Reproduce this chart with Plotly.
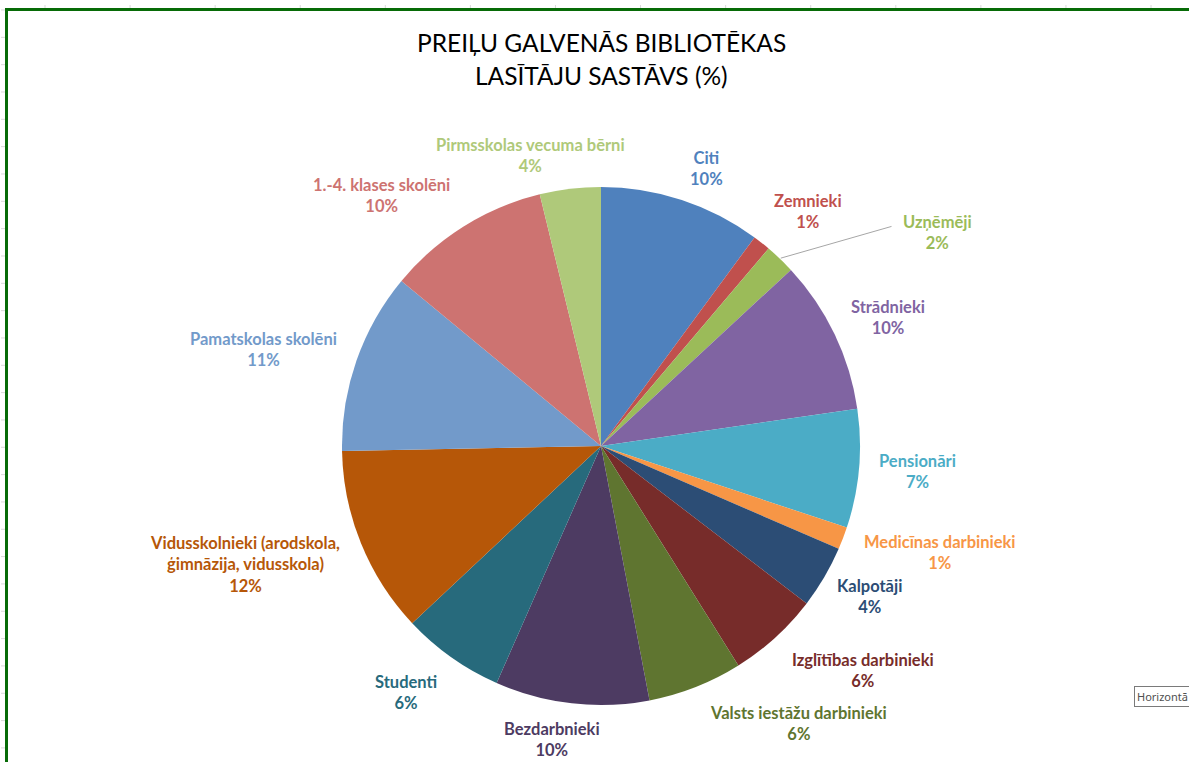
import math
import plotly.graph_objects as go

# ---- data ----
categories = [
    "Citi", "Zemnieki", "Uzņēmēji", "Strādnieki", "Pensionāri",
    "Medicīnas darbinieki", "Kalpotāji", "Izglītības darbinieki",
    "Valsts iestāžu darbinieki", "Bezdarbnieki", "Studenti",
    "Vidusskolnieki (arodskola,<br>ģimnāzija, vidusskola)",
    "Pamatskolas skolēni", "1.-4. klases skolēni", "Pirmsskolas vecuma bērni",
]
shares = [10.1, 1.1, 1.9, 9.6, 7.4, 1.4, 3.9, 5.7, 5.9, 9.6, 6.4, 11.7, 11.3, 10.2, 3.8]
title_lines = ["PREIĻU GALVENĀS BIBLIOTĒKAS", "LASĪTĀJU SASTĀVS (%)"]

# ---- styles ----
colors = ["#4F81BD", "#C0504D", "#9BBB59", "#8064A2", "#4BACC6", "#F79646",
          "#2C4D75", "#772C2A", "#5F7530", "#4D3B62", "#276A7C", "#B65708",
          "#729ACA", "#CD7371", "#AFC97A"]
label_px = [(706, 168), (808, 211), (937, 232), (888, 318), (918, 471),
            (940, 552), (869, 596), (863, 670), (798, 723), (552, 739),
            (406, 692), (245, 564), (263, 349), (381, 195), (530, 156)]

W, H = 1189, 762
cx, cy, R = 601, 446, 259


def px(x):
    return x / W


def py(y):
    return 1 - y / H


fig = go.Figure()
fig.add_trace(go.Pie(
    labels=categories, values=shares, sort=False, direction="clockwise", rotation=0,
    marker=dict(colors=colors, line=dict(width=0)),
    textinfo="none", hoverinfo="label+percent", showlegend=False,
    domain=dict(x=[px(cx - R), px(cx + R)], y=[py(cy + R), py(cy - R)]),
))

total = sum(shares)
annotations = []
cum = 0.0
for i, (cat, v) in enumerate(zip(categories, shares)):
    pct = round(v / total * 100)
    lx, ly = label_px[i]
    annotations.append(dict(
        x=px(lx), y=py(ly), xref="paper", yref="paper", showarrow=False,
        text=f"{cat}<br>{pct}%", align="center", xanchor="center", yanchor="middle",
        font=dict(family="Lato", size=16.5, color=colors[i], weight="bold"),
    ))
    mid = (cum + v / 2) / total * 2 * math.pi
    cum += v
    if cat == "Uzņēmēji":
        ex = cx + (R + 1) * math.sin(mid)
        ey = cy - (R + 1) * math.cos(mid)
        annotations.append(dict(
            x=px(ex), y=py(ey), xref="paper", yref="paper",
            ax=893 - ex, ay=226 - ey,
            showarrow=True, arrowhead=0, arrowwidth=1, arrowcolor="#A6A6A6", text="",
        ))

for j, t in enumerate(title_lines):
    annotations.append(dict(
        x=px(cx), y=py(42 + 33 * j), xref="paper", yref="paper", showarrow=False,
        text=t, xanchor="center", yanchor="middle",
        font=dict(family="Lato", size=24.5, color="#000000"),
    ))

annotations.append(dict(
    x=px(1134), y=py(696), xref="paper", yref="paper", showarrow=False,
    text="Horizontā", xanchor="left", yanchor="middle", align="left",
    font=dict(family="Noto Sans", size=11, color="#505050"),
    bgcolor="#FFFFFF", bordercolor="#7A7A7A", borderwidth=1, borderpad=2,
))

shapes = []
# faint spreadsheet grid ticks outside the chart border
for k in range(28):
    yy = 10 + 27.33 * k
    shapes.append(dict(type="line", xref="paper", yref="paper",
                       x0=px(1), x1=px(5), y0=py(yy), y1=py(yy),
                       line=dict(color="#D9D9D9", width=1)))
for k in range(14):
    xx = 45 + 85.08 * k
    shapes.append(dict(type="line", xref="paper", yref="paper",
                       x0=px(xx), x1=px(xx), y0=py(5), y1=py(8),
                       line=dict(color="#D9D9D9", width=1)))
# green chart border (left and top)
shapes.append(dict(type="line", xref="paper", yref="paper",
                   x0=px(6.5), x1=px(6.5), y0=py(8), y1=py(H + 2),
                   line=dict(color="#076B07", width=3)))
shapes.append(dict(type="line", xref="paper", yref="paper",
                   x0=px(5), x1=px(W + 2), y0=py(9.5), y1=py(9.5),
                   line=dict(color="#076B07", width=3)))

fig.update_layout(
    width=W, height=H, margin=dict(l=0, r=0, t=0, b=0),
    paper_bgcolor="#FFFFFF", plot_bgcolor="#FFFFFF",
    annotations=annotations, shapes=shapes,
)

fig.write_html("out.html", config={"displayModeBar": False},
               post_script="document.body.style.margin='0';document.body.style.overflow='hidden';")
